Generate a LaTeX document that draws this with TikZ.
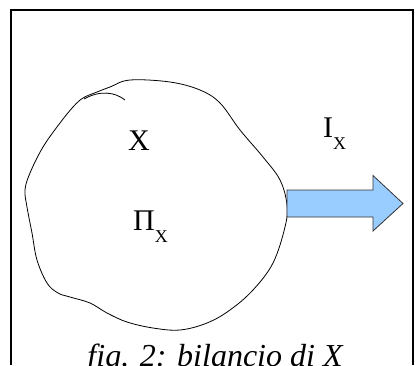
\documentclass[tikz,border=0pt]{standalone}
\usepackage{fontspec}
\setmainfont{Liberation Serif}
\usepackage{tikz}
\usetikzlibrary{positioning}
\definecolor{flowblue}{HTML}{99CCFF}
\definecolor{flowedge}{HTML}{333333}
\tikzset{
    label text/.style={inner sep=0pt, anchor=base west, font=\fontsize{30}{36}\selectfont},
}
\newcommand{\subX}{\raisebox{-12pt}{\fontsize{18}{20}\selectfont X}}

\begin{document}
\begin{tikzpicture}[x=1pt, y=-1pt]
    \useasboundingbox (0,0) rectangle (418,365);
    % Draw the open frame
    \draw[line width=1.4pt] (11,365) -- (11,10) -- (413,10) -- (413,365);

    % Draw the region of X
    \draw[line width=0.8pt] plot[smooth cycle, tension=0.6] coordinates {
        (83,98) (97,92) (110,87) (130,80) (170,82) (200,90) (220,103)
        (240,130) (263,157) (280,180) (287,205) (285,227) (273,263)
        (253,290) (230,310) (207,323) (180,330) (153,328) (127,322)
        (107,313) (90,303) (70,297) (58,293) (47,283) (37,260)
        (32,233) (27,207) (25,190) (30,173) (43,147) (60,123) (73,107)};
    \draw[line width=0.8pt] (84,99) .. controls (100,90) and (115,92) .. (125,100);

    % Labels inside and outside
    \node[label text, anchor=base] (quantity) at (139,150) {X};
    \node[label text] (production) at (133,230) {Π\subX};
    \node[label text] (flux) at (323,137) {I\subX};

    % Draw the outgoing flux arrow
    \coordinate (out) at (287,203.5);
    \coordinate (tip) at (403,203.5);
    \draw[fill=flowblue, draw=flowedge, line width=0.8pt]
        (out) ++(0,-13.5) -- ++(86,0) -- ++(0,-14.5) -- (tip)
        -- (373,231) -- ++(0,-14) -- ++(-86,0) -- cycle;

    % Caption
    \node[inner sep=0pt, anchor=base, font=\fontsize{32}{36}\selectfont\itshape] (caption)
        at (215,366) {fig. 2: bilancio di X};
\end{tikzpicture}
\end{document}
